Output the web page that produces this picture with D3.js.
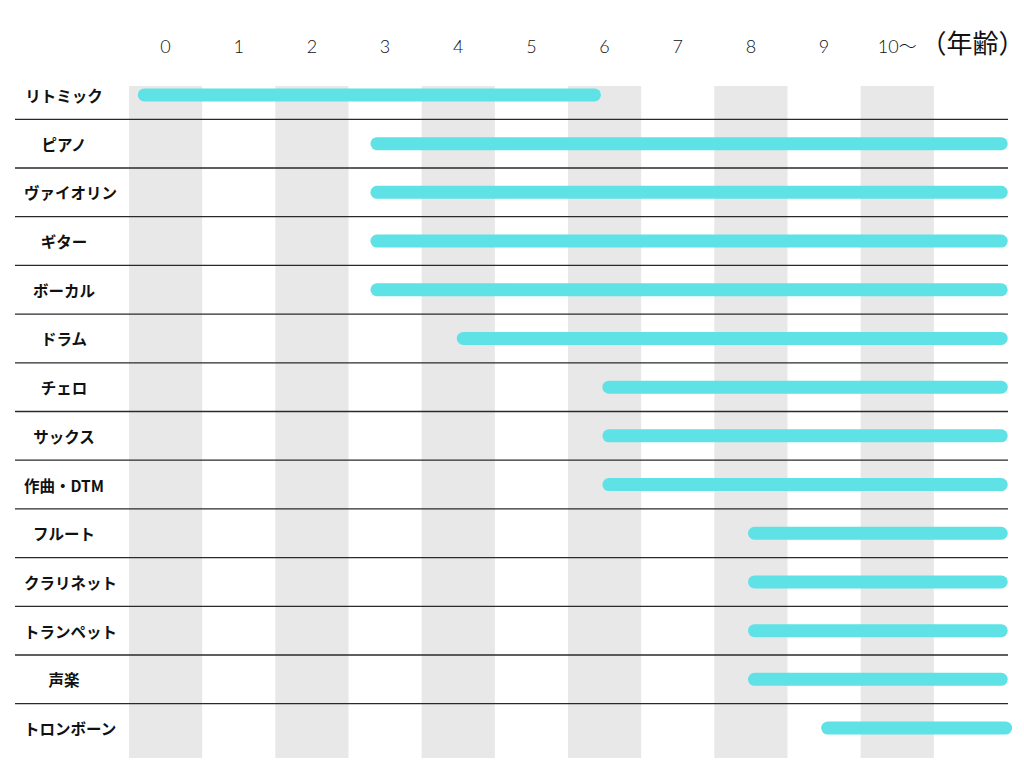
<!DOCTYPE html>
<html>
<head>
<meta charset="utf-8">
<script src="https://cdn.jsdelivr.net/npm/d3@7"></script>
<style>
  html, body { margin: 0; padding: 0; background: #fff; }
  svg { display: block; }
</style>
</head>
<body>
<svg id="chart" width="1024" height="768"></svg>
<script>
// ---- data ----
const instruments = ["リトミック","ピアノ","ヴァイオリン","ギター","ボーカル","ドラム","チェロ","サックス","作曲・DTM","フルート","クラリネット","トランペット","声楽","トロンボーン"];
const startAge = [-0.38, 2.8, 2.8, 2.8, 2.8, 3.98, 5.97, 5.97, 5.97, 7.96, 7.96, 7.96, 7.96, 8.96];
const endAge   = [5.95, 11.51, 11.51, 11.51, 11.51, 11.51, 11.51, 11.51, 11.51, 11.51, 11.51, 11.51, 11.51, 11.57];
const ageTicks = ["0","1","2","3","4","5","6","7","8","9","10〜"];
const unitLabel = "（年齢）";
const shadedCols = ["0","2","4","6","8","10〜"];

// ---- layout ----
const svg = d3.select("#chart");
const colKeys = ageTicks.concat([unitLabel]);
const xBand = d3.scaleBand().domain(colKeys).range([129, 1007]).paddingInner(0).paddingOuter(0);
const step = xBand.step();
// linear age scale: age value -> column center
const x = d3.scaleLinear().domain([0, 1]).range([xBand("0") + step / 2, xBand("1") + step / 2]);
const y = d3.scaleBand().domain(instruments).range([70.6, 752.4]).paddingInner(0).paddingOuter(0);

const bandTop = 86, bandBottom = 758;

// shaded columns
svg.append("g").selectAll("rect").data(shadedCols).join("rect")
  .attr("x", d => xBand(d))
  .attr("y", bandTop)
  .attr("width", step)
  .attr("height", bandBottom - bandTop)
  .attr("fill", "#e8e8e8");

// top axis labels
const axis = d3.axisTop(xBand).tickSize(0).tickPadding(0);
const axisG = svg.append("g").attr("transform", "translate(0,53)").call(axis);
axisG.select(".domain").remove();
axisG.selectAll("text")
  .attr("dy", 0)
  .attr("fill", "#111")
  .style("font-family", "Lato, 'Noto Sans CJK JP', sans-serif")
  .style("font-size", "18px")
  .style("font-weight", "300");
axisG.selectAll(".tick").filter(d => d === unitLabel).select("text")
  .attr("x", 2)
  .style("font-family", "'Noto Sans CJK JP', sans-serif")
  .style("font-size", "26px")
  .style("font-weight", "400");

// row separators
svg.append("g").selectAll("line").data(instruments.slice(1)).join("line")
  .attr("x1", 15).attr("x2", 1008)
  .attr("y1", d => y(d)).attr("y2", d => y(d))
  .attr("stroke", "#2a2a2a")
  .attr("stroke-width", 1.3);

// row labels
const labels = svg.append("g").selectAll("text").data(instruments).join("text")
  .attr("x", 64)
  .attr("y", d => y(d) + y.bandwidth() / 2)
  .attr("text-anchor", "middle")
  .attr("dominant-baseline", "central")
  .attr("fill", "#111")
  .style("font-family", "'Noto Sans CJK JP', sans-serif")
  .style("font-size", "15.5px")
  .style("font-weight", "700")
  .text(d => d);
labels.each(function() {
  const w = this.getComputedTextLength();
  if (w > 85) d3.select(this).attr("text-anchor", "start").attr("x", 24);
});

// bars
const barH = 13;
svg.append("g").selectAll("rect").data(instruments).join("rect")
  .attr("x", (d, i) => x(startAge[i]))
  .attr("width", (d, i) => x(endAge[i]) - x(startAge[i]))
  .attr("y", d => y(d) + y.bandwidth() / 2 - barH / 2)
  .attr("height", barH)
  .attr("rx", barH / 2)
  .attr("fill", "#5ee2e6");
</script>
</body>
</html>
